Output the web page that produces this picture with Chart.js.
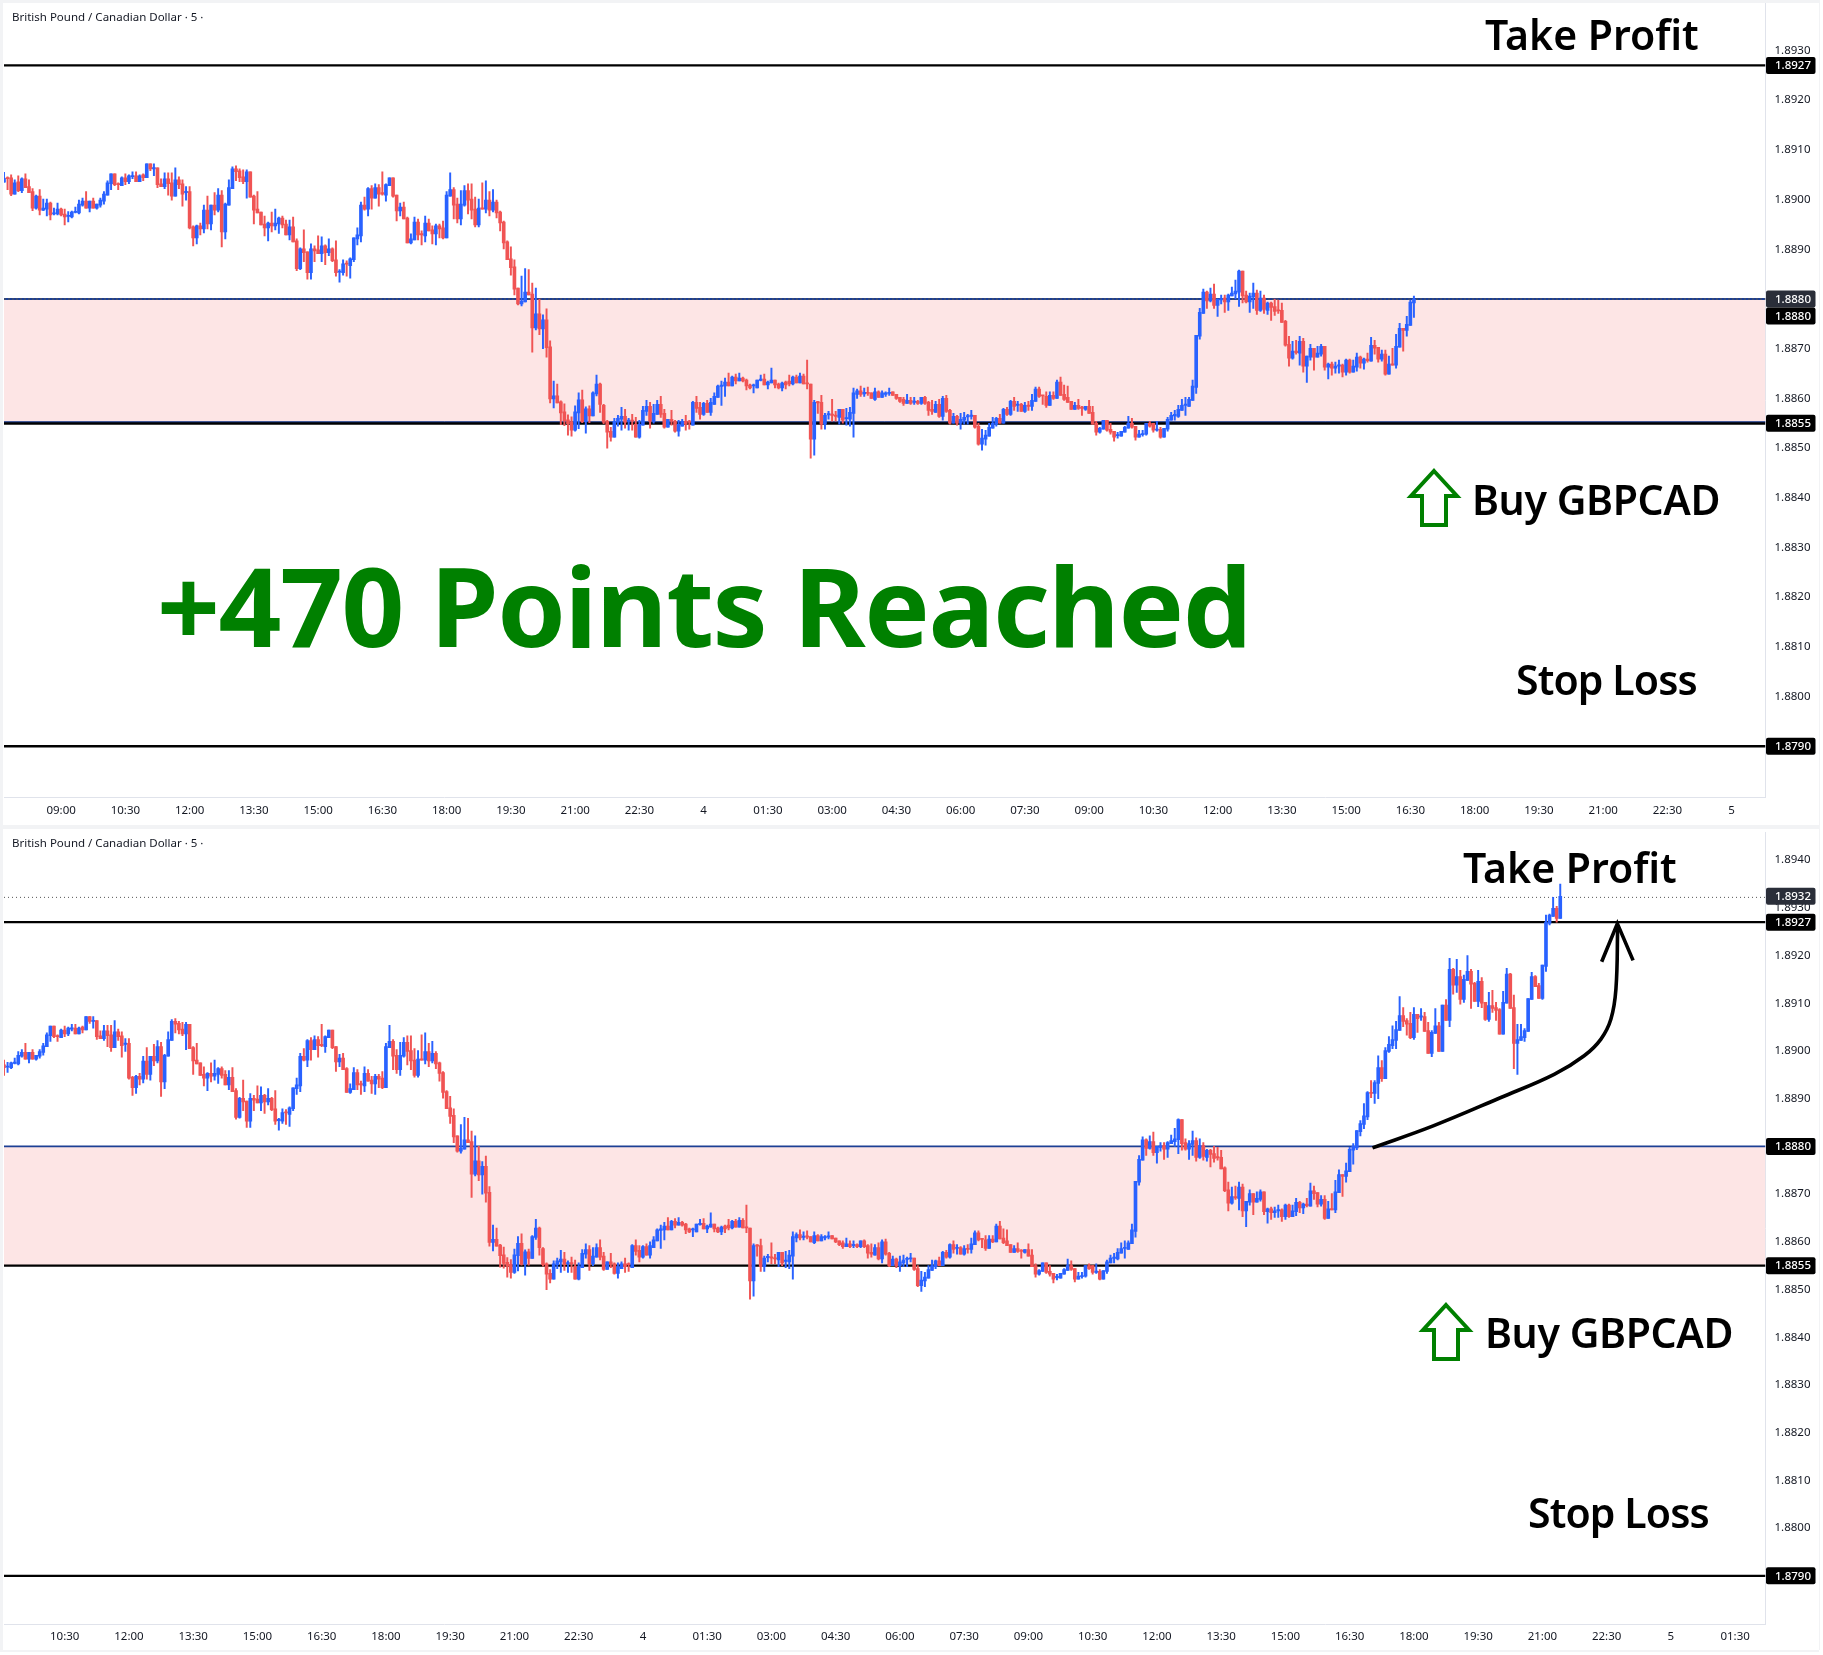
<!DOCTYPE html>
<html>
<head>
<meta charset="utf-8">
<title>GBPCAD</title>
<script src="https://cdn.jsdelivr.net/npm/chart.js@4/dist/chart.umd.min.js"></script>
<style>
html, body { margin: 0; padding: 0; background: #fff; }
body { width: 1823px; height: 1655px; position: relative; overflow: hidden; }
.strip { position: absolute; background: #f2f3f5; }
canvas { position: absolute; left: 0; }
</style>
</head>
<body>
<div class="strip" style="left:0;top:0;width:1819px;height:3px"></div>
<div class="strip" style="left:0;top:0;width:3px;height:1650px"></div>
<div class="strip" style="left:0;top:825px;width:1819px;height:4px"></div>
<div class="strip" style="left:1819px;top:0;width:1px;height:1650px"></div>
<div class="strip" style="left:0;top:1650px;width:1819px;height:2px"></div>
<canvas id="topChart" width="1819" height="825" style="top:0"></canvas>
<canvas id="bottomChart" width="1819" height="821" style="top:829px"></canvas>
<script>
// GBPCAD 5 minute candles
const opens = [
1.89035,1.89043,1.89044,1.89011,1.89036,1.89018,1.89042,1.89026,1.89016,1.88983,
1.89007,1.88979,1.88981,1.88993,1.88971,1.88971,1.88981,1.88971,1.88966,1.88965,
1.88974,1.88973,1.88989,1.88997,1.88983,1.88997,1.88983,1.88989,1.88997,1.89009,
1.89032,1.89052,1.89032,1.89028,1.89044,1.89036,1.89046,1.89048,1.89036,1.89050,
1.89044,1.89072,1.89062,1.89064,1.89032,1.89026,1.89042,1.89034,1.89007,1.89040,
1.89032,1.89014,1.89016,1.88945,1.88923,1.88947,1.88941,1.88979,1.88951,1.88989,
1.88979,1.89009,1.88935,1.88989,1.89022,1.89062,1.89058,1.89046,1.89036,1.89056,
1.89007,1.88981,1.88975,1.88951,1.88943,1.88953,1.88947,1.88951,1.88963,1.88951,
1.88929,1.88945,1.88917,1.88861,1.88901,1.88895,1.88853,1.88901,1.88899,1.88891,
1.88907,1.88893,1.88901,1.88879,1.88854,1.88853,1.88871,1.88867,1.88879,1.88921,
1.88927,1.88989,1.88981,1.89022,1.89003,1.89024,1.89014,1.89009,1.89028,1.89044,
1.89009,1.88977,1.88985,1.88963,1.88913,1.88919,1.88955,1.88931,1.88927,1.88953,
1.88939,1.88931,1.88947,1.88943,1.88923,1.89007,1.89020,1.88991,1.88961,1.88989,
1.89018,1.89001,1.88981,1.88949,1.88983,1.88981,1.88999,1.88979,1.88995,1.88975,
1.88955,1.88915,1.88881,1.88865,1.88822,1.88790,1.88794,1.88814,1.88810,1.88742,
1.88770,1.88740,1.88758,1.88704,1.88599,1.88605,1.88593,1.88573,1.88557,1.88553,
1.88536,1.88571,1.88597,1.88553,1.88579,1.88565,1.88609,1.88629,1.88586,1.88554,
1.88534,1.88522,1.88552,1.88558,1.88564,1.88554,1.88556,1.88548,1.88522,1.88546,
1.88574,1.88584,1.88554,1.88568,1.88588,1.88570,1.88542,1.88558,1.88554,1.88534,
1.88544,1.88554,1.88553,1.88546,1.88592,1.88582,1.88568,1.88590,1.88572,1.88588,
1.88602,1.88624,1.88625,1.88633,1.88625,1.88643,1.88635,1.88641,1.88637,1.88627,
1.88625,1.88621,1.88636,1.88639,1.88627,1.88631,1.88637,1.88629,1.88621,1.88633,
1.88635,1.88629,1.88643,1.88631,1.88645,1.88630,1.88629,1.88518,1.88593,1.88592,
1.88548,1.88567,1.88568,1.88566,1.88562,1.88578,1.88559,1.88558,1.88570,1.88608,
1.88615,1.88609,1.88612,1.88611,1.88598,1.88613,1.88602,1.88608,1.88610,1.88613,
1.88608,1.88602,1.88598,1.88590,1.88596,1.88592,1.88594,1.88590,1.88602,1.88592,
1.88578,1.88572,1.88588,1.88564,1.88600,1.88576,1.88550,1.88564,1.88550,1.88556,
1.88563,1.88564,1.88566,1.88544,1.88508,1.88518,1.88524,1.88540,1.88548,1.88560,
1.88550,1.88578,1.88568,1.88594,1.88586,1.88588,1.88574,1.88586,1.88584,1.88594,
1.88619,1.88606,1.88604,1.88586,1.88606,1.88600,1.88633,1.88608,1.88602,1.88594,
1.88578,1.88586,1.88582,1.88578,1.88584,1.88572,1.88550,1.88532,1.88538,1.88556,
1.88538,1.88534,1.88525,1.88524,1.88532,1.88540,1.88550,1.88544,1.88522,1.88527,
1.88528,1.88550,1.88550,1.88536,1.88538,1.88522,1.88538,1.88556,1.88565,1.88564,
1.88576,1.88586,1.88584,1.88596,1.88622,1.88725,1.88771,1.88814,1.88796,1.88810,
1.88787,1.88798,1.88802,1.88794,1.88806,1.88810,1.88814,1.88856,1.88808,1.88794,
1.88804,1.88812,1.88777,1.88802,1.88777,1.88792,1.88785,1.88777,1.88777,1.88755,
1.88709,1.88681,1.88695,1.88691,1.88715,1.88665,1.88683,1.88701,1.88683,1.88689,
1.88705,1.88663,1.88669,1.88661,1.88665,1.88667,1.88653,1.88677,1.88653,1.88663,
1.88683,1.88671,1.88679,1.88675,1.88707,1.88703,1.88679,1.88689,1.88649,1.88669,
1.88667,1.88703,1.88741,1.88737,1.88747,1.88792,1.88797,1.88831,1.88846,1.88862,
1.88913,1.88911,1.88932,1.88965,1.88942,1.88999,1.89011,1.89022,1.89043,1.89074,
1.89064,1.89058,1.89028,1.89077,1.89071,1.89072,1.89043,1.88995,1.89037,1.89053,
1.88999,1.89096,1.89064,1.89171,1.89138,1.89156,1.89108,1.89148,1.89167,1.89142,
1.89104,1.89146,1.89102,1.89066,1.89095,1.89091,1.89087,1.89035,1.89100,1.89161,
1.89091,1.89016,1.89022,1.89028,1.89041,1.89108,1.89156,1.89137,1.89110,1.89177,
1.89268,1.89282,1.89299,1.89278];
const highs = [
1.89055,1.89046,1.89050,1.89040,1.89048,1.89044,1.89052,1.89040,1.89022,1.89009,
1.89020,1.89001,1.89001,1.88995,1.88983,1.88993,1.88983,1.88981,1.88976,1.88977,
1.88985,1.88999,1.89003,1.89016,1.88997,1.89003,1.88991,1.89003,1.89016,1.89038,
1.89052,1.89052,1.89034,1.89046,1.89052,1.89050,1.89056,1.89056,1.89050,1.89052,
1.89072,1.89072,1.89072,1.89064,1.89042,1.89054,1.89054,1.89054,1.89064,1.89046,
1.89040,1.89026,1.89026,1.88947,1.88949,1.88953,1.88989,1.89007,1.88989,1.89014,
1.89022,1.89018,1.88993,1.89040,1.89066,1.89068,1.89062,1.89060,1.89060,1.89056,
1.89009,1.89016,1.88975,1.88967,1.88955,1.88975,1.88981,1.88965,1.88967,1.88959,
1.88959,1.88965,1.88921,1.88903,1.88939,1.88895,1.88911,1.88907,1.88927,1.88925,
1.88909,1.88921,1.88903,1.88917,1.88859,1.88879,1.88877,1.88883,1.88923,1.88943,
1.88995,1.89005,1.89024,1.89028,1.89032,1.89030,1.89056,1.89032,1.89044,1.89044,
1.89009,1.88993,1.88995,1.88965,1.88931,1.88965,1.88961,1.88937,1.88967,1.88961,
1.88947,1.88951,1.88951,1.88957,1.89016,1.89054,1.89024,1.89003,1.89018,1.89028,
1.89032,1.89032,1.89005,1.89001,1.89034,1.89038,1.89016,1.89020,1.88999,1.88977,
1.88957,1.88917,1.88905,1.88879,1.88822,1.88846,1.88861,1.88859,1.88832,1.88822,
1.88800,1.88768,1.88780,1.88716,1.88635,1.88629,1.88595,1.88589,1.88567,1.88563,
1.88585,1.88611,1.88617,1.88583,1.88585,1.88613,1.88647,1.88631,1.88588,1.88556,
1.88542,1.88560,1.88566,1.88582,1.88578,1.88560,1.88568,1.88562,1.88556,1.88584,
1.88596,1.88592,1.88588,1.88596,1.88604,1.88578,1.88558,1.88576,1.88556,1.88556,
1.88558,1.88566,1.88556,1.88594,1.88604,1.88592,1.88592,1.88596,1.88600,1.88611,
1.88627,1.88635,1.88641,1.88651,1.88645,1.88649,1.88651,1.88643,1.88639,1.88629,
1.88629,1.88637,1.88647,1.88649,1.88635,1.88661,1.88637,1.88631,1.88633,1.88635,
1.88647,1.88645,1.88647,1.88651,1.88649,1.88677,1.88629,1.88596,1.88594,1.88606,
1.88570,1.88574,1.88598,1.88574,1.88578,1.88578,1.88580,1.88582,1.88621,1.88619,
1.88625,1.88621,1.88623,1.88611,1.88621,1.88615,1.88615,1.88613,1.88621,1.88613,
1.88608,1.88602,1.88602,1.88608,1.88602,1.88602,1.88596,1.88602,1.88604,1.88594,
1.88596,1.88594,1.88598,1.88604,1.88606,1.88578,1.88570,1.88566,1.88570,1.88572,
1.88568,1.88576,1.88566,1.88550,1.88538,1.88536,1.88550,1.88562,1.88562,1.88568,
1.88580,1.88582,1.88596,1.88602,1.88594,1.88590,1.88592,1.88594,1.88608,1.88623,
1.88623,1.88606,1.88613,1.88613,1.88613,1.88637,1.88643,1.88627,1.88625,1.88594,
1.88592,1.88598,1.88584,1.88584,1.88596,1.88584,1.88554,1.88542,1.88556,1.88556,
1.88550,1.88534,1.88532,1.88534,1.88544,1.88564,1.88560,1.88544,1.88536,1.88536,
1.88550,1.88554,1.88550,1.88554,1.88542,1.88540,1.88562,1.88572,1.88576,1.88586,
1.88598,1.88602,1.88602,1.88637,1.88727,1.88781,1.88820,1.88816,1.88822,1.88830,
1.88800,1.88808,1.88808,1.88810,1.88824,1.88838,1.88858,1.88856,1.88816,1.88812,
1.88832,1.88818,1.88816,1.88808,1.88794,1.88794,1.88800,1.88798,1.88792,1.88757,
1.88725,1.88715,1.88717,1.88725,1.88721,1.88685,1.88709,1.88701,1.88705,1.88709,
1.88705,1.88671,1.88673,1.88673,1.88677,1.88669,1.88679,1.88679,1.88677,1.88691,
1.88685,1.88681,1.88691,1.88723,1.88717,1.88703,1.88697,1.88697,1.88685,1.88701,
1.88729,1.88751,1.88741,1.88765,1.88798,1.88806,1.88833,1.88854,1.88890,1.88915,
1.88938,1.88938,1.88990,1.88980,1.89007,1.89030,1.89053,1.89062,1.89114,1.89091,
1.89068,1.89081,1.89091,1.89077,1.89089,1.89081,1.89060,1.89043,1.89089,1.89060,
1.89096,1.89108,1.89194,1.89173,1.89192,1.89169,1.89159,1.89200,1.89171,1.89144,
1.89169,1.89154,1.89102,1.89123,1.89127,1.89102,1.89089,1.89125,1.89173,1.89163,
1.89117,1.89056,1.89056,1.89047,1.89110,1.89165,1.89158,1.89142,1.89180,1.89285,
1.89287,1.89322,1.89303,1.89350];
const lows = [
1.89035,1.89020,1.89008,1.89011,1.89016,1.89014,1.89024,1.89014,1.88978,1.88981,
1.88969,1.88978,1.88967,1.88959,1.88969,1.88969,1.88967,1.88949,1.88955,1.88963,
1.88973,1.88971,1.88987,1.88983,1.88975,1.88983,1.88981,1.88985,1.88991,1.89009,
1.89020,1.89028,1.89020,1.89028,1.89030,1.89032,1.89042,1.89036,1.89036,1.89038,
1.89044,1.89058,1.89048,1.89024,1.89026,1.89022,1.89009,1.88999,1.89007,1.89022,
1.88987,1.88999,1.88941,1.88907,1.88911,1.88929,1.88933,1.88941,1.88939,1.88969,
1.88975,1.88905,1.88921,1.88989,1.89022,1.89038,1.89036,1.89032,1.89003,1.89005,
1.88951,1.88973,1.88949,1.88927,1.88917,1.88935,1.88939,1.88932,1.88943,1.88929,
1.88919,1.88915,1.88857,1.88859,1.88875,1.88840,1.88840,1.88875,1.88891,1.88875,
1.88869,1.88887,1.88875,1.88846,1.88834,1.88848,1.88846,1.88842,1.88875,1.88909,
1.88915,1.88979,1.88967,1.88981,1.89003,1.88987,1.89009,1.88997,1.89028,1.89005,
1.88957,1.88967,1.88961,1.88913,1.88911,1.88919,1.88919,1.88909,1.88915,1.88937,
1.88911,1.88909,1.88923,1.88921,1.88923,1.89007,1.88961,1.88953,1.88949,1.88987,
1.88971,1.88961,1.88945,1.88945,1.88981,1.88973,1.88967,1.88975,1.88963,1.88937,
1.88901,1.88879,1.88848,1.88808,1.88788,1.88786,1.88794,1.88808,1.88693,1.88738,
1.88728,1.88700,1.88683,1.88591,1.88581,1.88591,1.88547,1.88545,1.88526,1.88524,
1.88534,1.88539,1.88551,1.88530,1.88551,1.88565,1.88605,1.88572,1.88549,1.88500,
1.88514,1.88522,1.88544,1.88536,1.88540,1.88536,1.88536,1.88522,1.88520,1.88546,
1.88566,1.88540,1.88550,1.88568,1.88562,1.88540,1.88542,1.88546,1.88532,1.88524,
1.88544,1.88536,1.88538,1.88546,1.88572,1.88558,1.88566,1.88572,1.88566,1.88588,
1.88602,1.88586,1.88604,1.88625,1.88625,1.88629,1.88635,1.88633,1.88617,1.88619,
1.88611,1.88621,1.88635,1.88627,1.88619,1.88631,1.88621,1.88619,1.88615,1.88619,
1.88625,1.88627,1.88631,1.88631,1.88629,1.88619,1.88480,1.88486,1.88570,1.88538,
1.88538,1.88558,1.88554,1.88554,1.88548,1.88550,1.88546,1.88544,1.88522,1.88600,
1.88604,1.88604,1.88606,1.88600,1.88596,1.88602,1.88602,1.88604,1.88606,1.88606,
1.88598,1.88592,1.88586,1.88590,1.88588,1.88588,1.88588,1.88588,1.88588,1.88566,
1.88568,1.88572,1.88562,1.88556,1.88572,1.88548,1.88550,1.88546,1.88538,1.88548,
1.88548,1.88558,1.88540,1.88506,1.88496,1.88506,1.88524,1.88540,1.88544,1.88550,
1.88550,1.88566,1.88566,1.88576,1.88574,1.88574,1.88572,1.88576,1.88576,1.88594,
1.88602,1.88588,1.88582,1.88586,1.88598,1.88600,1.88606,1.88596,1.88592,1.88578,
1.88578,1.88578,1.88566,1.88576,1.88570,1.88548,1.88526,1.88530,1.88538,1.88534,
1.88528,1.88514,1.88520,1.88524,1.88532,1.88540,1.88540,1.88516,1.88522,1.88524,
1.88526,1.88542,1.88532,1.88534,1.88520,1.88522,1.88534,1.88556,1.88556,1.88562,
1.88576,1.88566,1.88584,1.88596,1.88610,1.88719,1.88771,1.88781,1.88794,1.88781,
1.88765,1.88790,1.88773,1.88777,1.88806,1.88800,1.88785,1.88792,1.88792,1.88773,
1.88781,1.88769,1.88775,1.88771,1.88769,1.88757,1.88767,1.88771,1.88753,1.88705,
1.88665,1.88679,1.88689,1.88667,1.88653,1.88632,1.88677,1.88657,1.88683,1.88685,
1.88657,1.88639,1.88647,1.88651,1.88651,1.88643,1.88647,1.88651,1.88653,1.88655,
1.88661,1.88659,1.88673,1.88675,1.88689,1.88673,1.88675,1.88647,1.88649,1.88667,
1.88661,1.88703,1.88695,1.88725,1.88747,1.88763,1.88793,1.88822,1.88837,1.88856,
1.88902,1.88890,1.88900,1.88936,1.88942,1.88997,1.89005,1.89005,1.89043,1.89051,
1.89033,1.89026,1.89024,1.89039,1.89064,1.89041,1.88995,1.88988,1.89037,1.88999,
1.88999,1.89064,1.89051,1.89119,1.89123,1.89098,1.89102,1.89148,1.89089,1.89104,
1.89093,1.89091,1.89064,1.89062,1.89081,1.89064,1.89035,1.89035,1.89100,1.89089,
1.88963,1.88951,1.89022,1.89020,1.89041,1.89108,1.89135,1.89110,1.89108,1.89167,
1.89264,1.89282,1.89270,1.89278];
const closes = [
1.89043,1.89042,1.89011,1.89034,1.89018,1.89042,1.89024,1.89014,1.88983,1.89007,
1.88979,1.88983,1.88993,1.88969,1.88973,1.88981,1.88969,1.88965,1.88967,1.88975,
1.88975,1.88991,1.88997,1.88983,1.88997,1.88983,1.88991,1.88999,1.89011,1.89034,
1.89052,1.89030,1.89030,1.89044,1.89036,1.89048,1.89048,1.89036,1.89048,1.89044,
1.89072,1.89062,1.89064,1.89030,1.89026,1.89042,1.89032,1.89007,1.89040,1.89030,
1.89011,1.89016,1.88943,1.88923,1.88947,1.88941,1.88979,1.88951,1.88989,1.88979,
1.89009,1.88935,1.88991,1.89024,1.89062,1.89056,1.89044,1.89036,1.89056,1.89005,
1.88979,1.88973,1.88949,1.88943,1.88953,1.88947,1.88953,1.88963,1.88949,1.88929,
1.88945,1.88915,1.88861,1.88901,1.88893,1.88853,1.88901,1.88897,1.88891,1.88907,
1.88893,1.88901,1.88877,1.88853,1.88855,1.88871,1.88870,1.88881,1.88923,1.88929,
1.88989,1.88981,1.89022,1.89003,1.89024,1.89011,1.89011,1.89030,1.89044,1.89007,
1.88977,1.88985,1.88961,1.88913,1.88921,1.88955,1.88929,1.88929,1.88953,1.88937,
1.88931,1.88947,1.88941,1.88923,1.89009,1.89020,1.88989,1.88961,1.88991,1.89018,
1.88999,1.88979,1.88949,1.88983,1.88981,1.88999,1.88979,1.88995,1.88973,1.88953,
1.88913,1.88879,1.88863,1.88820,1.88790,1.88796,1.88814,1.88808,1.88742,1.88770,
1.88740,1.88758,1.88702,1.88599,1.88605,1.88591,1.88571,1.88555,1.88549,1.88536,
1.88573,1.88597,1.88553,1.88579,1.88565,1.88611,1.88629,1.88588,1.88552,1.88532,
1.88522,1.88554,1.88560,1.88564,1.88552,1.88556,1.88554,1.88522,1.88548,1.88576,
1.88584,1.88554,1.88570,1.88588,1.88568,1.88542,1.88558,1.88554,1.88534,1.88548,
1.88554,1.88548,1.88552,1.88592,1.88580,1.88568,1.88590,1.88572,1.88592,1.88604,
1.88625,1.88627,1.88633,1.88625,1.88643,1.88635,1.88641,1.88635,1.88625,1.88621,
1.88626,1.88637,1.88639,1.88627,1.88633,1.88637,1.88627,1.88621,1.88631,1.88627,
1.88629,1.88643,1.88631,1.88645,1.88629,1.88629,1.88518,1.88592,1.88591,1.88548,
1.88566,1.88568,1.88566,1.88564,1.88578,1.88556,1.88560,1.88572,1.88611,1.88615,
1.88608,1.88612,1.88610,1.88600,1.88613,1.88602,1.88611,1.88611,1.88612,1.88606,
1.88600,1.88594,1.88590,1.88596,1.88590,1.88594,1.88590,1.88602,1.88590,1.88576,
1.88574,1.88588,1.88564,1.88600,1.88574,1.88550,1.88564,1.88550,1.88558,1.88562,
1.88564,1.88566,1.88542,1.88508,1.88520,1.88526,1.88542,1.88550,1.88560,1.88550,
1.88578,1.88568,1.88594,1.88584,1.88588,1.88574,1.88586,1.88584,1.88596,1.88619,
1.88604,1.88605,1.88586,1.88606,1.88600,1.88633,1.88606,1.88598,1.88592,1.88578,
1.88586,1.88580,1.88580,1.88584,1.88570,1.88548,1.88532,1.88540,1.88556,1.88536,
1.88532,1.88522,1.88527,1.88534,1.88542,1.88550,1.88542,1.88522,1.88528,1.88529,
1.88550,1.88544,1.88536,1.88538,1.88522,1.88540,1.88558,1.88566,1.88568,1.88578,
1.88586,1.88588,1.88598,1.88625,1.88727,1.88773,1.88814,1.88796,1.88810,1.88787,
1.88800,1.88801,1.88794,1.88808,1.88812,1.88816,1.88856,1.88806,1.88794,1.88806,
1.88812,1.88777,1.88802,1.88779,1.88792,1.88783,1.88775,1.88776,1.88753,1.88707,
1.88681,1.88695,1.88692,1.88715,1.88665,1.88685,1.88701,1.88683,1.88691,1.88705,
1.88663,1.88669,1.88661,1.88665,1.88667,1.88653,1.88677,1.88653,1.88665,1.88683,
1.88671,1.88679,1.88676,1.88707,1.88701,1.88679,1.88689,1.88649,1.88669,1.88667,
1.88705,1.88741,1.88737,1.88749,1.88794,1.88800,1.88833,1.88848,1.88864,1.88913,
1.88911,1.88934,1.88965,1.88942,1.89001,1.89014,1.89024,1.89045,1.89074,1.89062,
1.89056,1.89028,1.89077,1.89068,1.89072,1.89041,1.88995,1.89039,1.89053,1.88999,
1.89096,1.89064,1.89171,1.89138,1.89156,1.89108,1.89150,1.89167,1.89140,1.89104,
1.89146,1.89100,1.89066,1.89095,1.89089,1.89085,1.89035,1.89102,1.89161,1.89089,
1.89016,1.89024,1.89030,1.89043,1.89110,1.89156,1.89135,1.89110,1.89180,1.89270,
1.89285,1.89299,1.89278,1.89324];

// time axis: one tick every 18 candles, first one on candle 16
const timeTicks = ['09:00','10:30','12:00','13:30','15:00','16:30','18:00','19:30','21:00','22:30','4',
  '01:30','03:00','04:30','06:00','07:30','09:00','10:30','12:00','13:30','15:00','16:30','18:00','19:30','21:00','22:30','5','01:30'];
const firstTickBar = 16;
const barsPerTick = 18;

// price levels
const takeProfit = 1.8927;
const zoneTop = 1.8880;
const zoneBottom = 1.8855;
const zoneEdge = 1.88553;
const stopLoss = 1.8790;
const lastPrice = 1.89322;

// hand drawn arrow on the second chart, candle position + price
const curveBars = [400.4, 417.4, 436.2, 451.3, 459.7, 464.4, 467.2, 468.6, 469.1];
const curvePrices = [1.88797, 1.88843, 1.88902, 1.88951, 1.88990, 1.89025, 1.89067, 1.89130, 1.89264];
const headBars = [464.6, 469, 473.4];
const headPrices = [1.89187, 1.89267, 1.89190];

const RED = '#f05454';
const BLUE = '#2962ff';
const INK = '#131722';
const GREEN = '#008000';
const TEXT_FONT = '"Noto Sans"';

function candles(first, last) {
  let wicks = [], bodies = [], colors = [];
  for (let i = first; i <= last; i++) {
    wicks.push({x: i, y: [lows[i], highs[i]]});
    bodies.push({x: i, y: [opens[i], closes[i]]});
    colors.push(closes[i] >= opens[i] ? BLUE : RED);
  }
  return [
    {type: 'bar', data: wicks, backgroundColor: colors, barThickness: 1.3, order: 2, grouped: false, minBarLength: 1},
    {type: 'bar', data: bodies, backgroundColor: colors, barThickness: 3, order: 1, grouped: false, minBarLength: 1.2}
  ];
}

function level(price, xMin, xMax, color, width, order, extra) {
  return Object.assign({
    type: 'line',
    data: [{x: xMin, y: price}, {x: xMax, y: price}],
    borderColor: color,
    borderWidth: width,
    pointRadius: 0,
    order: order,
    fill: false
  }, extra || {});
}

// tags on the price axis, text over the chart and the green arrow
function overlay(tags, arrow, notes) {
  return {
    id: 'overlay',
    afterDraw(chart) {
      const ctx = chart.ctx;
      const yScale = chart.scales.y;
      const area = chart.chartArea;
      ctx.save();
      notes.forEach(n => {
        ctx.font = n.font;
        ctx.letterSpacing = n.spacing || '0px';
        ctx.fillStyle = n.color;
        ctx.textAlign = 'left';
        ctx.textBaseline = 'alphabetic';
        ctx.fillText(n.text, n.x, n.y);
      });
      ctx.letterSpacing = '0px';
      tags.forEach(t => {
        const y = yScale.getPixelForValue(t.price) + (t.below || 0);
        ctx.fillStyle = t.color;
        ctx.beginPath();
        ctx.roundRect(area.right + 0.5, y - 8.5, 49.5, 17, 2);
        ctx.fill();
        ctx.fillStyle = '#fff';
        ctx.font = '500 11.5px ' + TEXT_FONT;
        ctx.textAlign = 'left';
        ctx.textBaseline = 'middle';
        ctx.fillText(t.price.toFixed(4), area.right + 9.5, y + 0.5);
      });
      ctx.strokeStyle = GREEN;
      ctx.lineWidth = 4;
      ctx.lineJoin = 'miter';
      ctx.beginPath();
      ctx.moveTo(arrow.x, arrow.y);
      ctx.lineTo(arrow.x + 23, arrow.y + 25);
      ctx.lineTo(arrow.x + 12, arrow.y + 25);
      ctx.lineTo(arrow.x + 12, arrow.y + 54);
      ctx.lineTo(arrow.x - 12, arrow.y + 54);
      ctx.lineTo(arrow.x - 12, arrow.y + 25);
      ctx.lineTo(arrow.x - 23, arrow.y + 25);
      ctx.closePath();
      ctx.stroke();
      ctx.restore();
    }
  };
}

function makeOptions(xMin, xMax, yMin, yMax, axisHeight, labelGap) {
  return {
    responsive: false,
    animation: false,
    devicePixelRatio: 1,
    layout: {padding: {left: 4, top: 3, right: 0, bottom: 0}},
    plugins: {legend: {display: false}, tooltip: {enabled: false}},
    scales: {
      x: {
        type: 'linear',
        offset: false,
        min: xMin,
        max: xMax,
        afterBuildTicks: s => {
          s.ticks = timeTicks.map((t, i) => ({value: firstTickBar + i * barsPerTick}))
            .filter(t => t.value > xMin + 8 && t.value < xMax);
        },
        afterFit: s => { s.height = axisHeight; s.paddingLeft = 0; s.paddingRight = 0; },
        grid: {display: false, drawTicks: false},
        border: {display: true, color: '#e0e3eb', width: 1},
        ticks: {
          autoSkip: false,
          maxRotation: 0,
          padding: labelGap,
          color: INK,
          font: {family: TEXT_FONT, size: 11.5},
          callback: v => timeTicks[(v - firstTickBar) / barsPerTick]
        }
      },
      y: {
        position: 'right',
        min: yMin,
        max: yMax,
        afterBuildTicks: s => { s.ticks = s.ticks.filter(t => t.value > 1.8795); },
        afterFit: s => { s.width = 53.5; s.paddingTop = 0; s.paddingBottom = 0; },
        grid: {display: false, drawTicks: false},
        border: {display: true, color: '#e0e3eb', width: 1},
        ticks: {
          stepSize: 0.001,
          includeBounds: false,
          padding: 9,
          color: INK,
          font: {family: TEXT_FONT, size: 11.5},
          callback: v => v.toFixed(4)
        }
      }
    }
  };
}

const HEAD_FONT = '600 41px ' + TEXT_FONT;

const topMin = 0, topMax = 493.5;
new Chart(document.getElementById('topChart'), {
  plugins: [overlay(
    [
      {price: takeProfit, color: '#000'},
      {price: zoneTop, color: '#2a2e39'},
      {price: zoneTop, color: '#000', below: 17},
      {price: zoneBottom, color: '#000'},
      {price: stopLoss, color: '#000'}
    ],
    {x: 1434, y: 471},
    [
      {text: 'British Pound / Canadian Dollar · 5 ·', x: 12, y: 21, font: '11.5px ' + TEXT_FONT, color: INK},
      {text: 'Take Profit', x: 1485, y: 50, font: HEAD_FONT, color: '#000'},
      {text: 'Buy GBPCAD', x: 1472, y: 515, font: HEAD_FONT, color: '#000', spacing: '-0.4px'},
      {text: 'Stop Loss', x: 1516, y: 695, font: HEAD_FONT, color: '#000', spacing: '-0.9px'},
      {text: '+470 Points Reached', x: 157, y: 647, font: '700 110px ' + TEXT_FONT, color: GREEN, spacing: '-1.4px'}
    ]
  )],
  data: {
    datasets: candles(0, 395).concat([
      level(takeProfit, topMin, topMax, '#000', 2.4, 5),
      level(stopLoss, topMin, topMax, '#000', 2.4, 5),
      level(zoneBottom, topMin, topMax, '#000', 3, 5),
      level(zoneEdge, topMin, topMax, '#1c3f94', 1, 4),
      level(zoneTop, topMin, topMax, '#1c3f94', 2, 6, {fill: {value: zoneBottom}, backgroundColor: '#fde5e5'}),
      level(zoneTop, topMin, topMax, '#555', 1, 4, {borderDash: [2, 2]})
    ])
  },
  options: makeOptions(topMin, topMax, 1.87798, 1.893956, 28, 7)
});

const bottomMin = 17, bottomMax = 510.5;
new Chart(document.getElementById('bottomChart'), {
  plugins: [overlay(
    [
      {price: lastPrice, color: '#2a2e39', below: -1},
      {price: takeProfit, color: '#000'},
      {price: zoneTop, color: '#000'},
      {price: zoneBottom, color: '#000'},
      {price: stopLoss, color: '#000'}
    ],
    {x: 1446, y: 476},
    [
      {text: 'British Pound / Canadian Dollar · 5 ·', x: 12, y: 18, font: '11.5px ' + TEXT_FONT, color: INK},
      {text: 'Take Profit', x: 1463, y: 54, font: HEAD_FONT, color: '#000'},
      {text: 'Buy GBPCAD', x: 1485, y: 519, font: HEAD_FONT, color: '#000', spacing: '-0.4px'},
      {text: 'Stop Loss', x: 1528, y: 699, font: HEAD_FONT, color: '#000', spacing: '-0.9px'}
    ]
  )],
  data: {
    datasets: candles(17, 453).concat([
      level(takeProfit, bottomMin, bottomMax, '#000', 2.2, 5),
      level(stopLoss, bottomMin, bottomMax, '#000', 2.2, 5),
      level(zoneBottom, bottomMin, bottomMax, '#000', 2.2, 5),
      level(zoneTop, bottomMin, bottomMax, '#1c3f94', 1.6, 6, {fill: {value: zoneBottom}, backgroundColor: '#fde5e5'}),
      level(lastPrice, bottomMin, bottomMax, '#555', 1, 5, {borderDash: [1, 3]}),
      {type: 'line', data: curveBars.map((b, i) => ({x: b, y: curvePrices[i]})), borderColor: '#000', borderWidth: 3.6, pointRadius: 0, tension: 0.4, order: 0},
      {type: 'line', data: headBars.map((b, i) => ({x: b, y: headPrices[i]})), borderColor: '#000', borderWidth: 3.6, pointRadius: 0, order: 0}
    ])
  },
  options: makeOptions(bottomMin, bottomMax, 1.87799, 1.89459, 26, 6)
});
</script>
</body>
</html>
